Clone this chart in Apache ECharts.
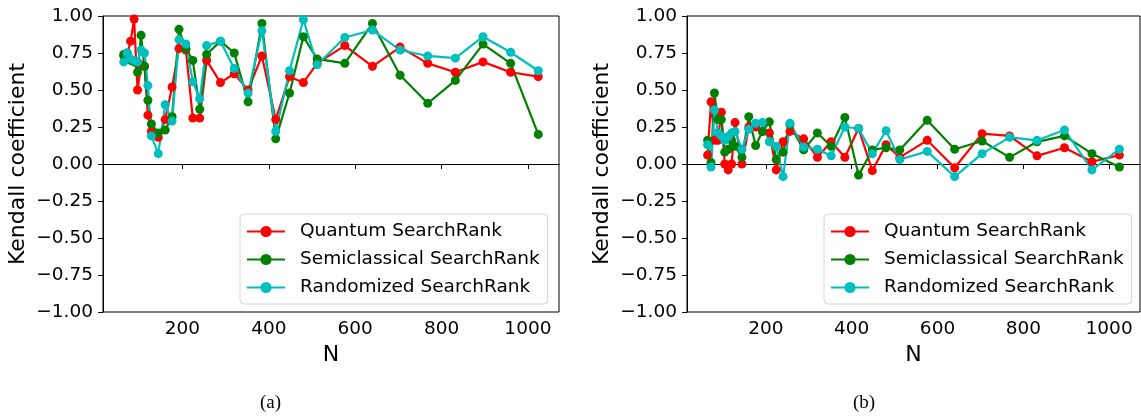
<!DOCTYPE html>
<html>
<head>
<meta charset="utf-8">
<script src="https://cdn.jsdelivr.net/npm/echarts@6/dist/echarts.min.js"></script>
<style>
  html, body { margin: 0; padding: 0; background: #fff; }
  #chart { width: 1141px; height: 416px; }
</style>
</head>
<body>
<div id="chart"></div>
<script>
// graph sizes N (x axis), shared by both panels
const N = [64, 72, 80, 88, 96, 104, 112, 120, 128, 144, 160, 176, 192, 208, 224, 240, 256,
  288, 320, 352, 384, 416, 448, 480, 512, 576, 640, 704, 768, 832, 896, 960, 1024]

const xTicks = [200, 400, 600, 800, 1000]
const names = ['Quantum SearchRank', 'Semiclassical SearchRank', 'Randomized SearchRank']

// panel (a)
const quantumA = [0.73, 0.74, 0.83, 0.98, 0.50, 0.67, 0.66, 0.33, 0.22, 0.18, 0.30, 0.52, 0.78, 0.77, 0.31, 0.31, 0.70,
  0.55, 0.61, 0.50, 0.73, 0.30, 0.59, 0.55, 0.68, 0.80, 0.66, 0.79, 0.68, 0.62, 0.69, 0.62, 0.59]
const semiA = [0.74, 0.75, 0.70, 0.69, 0.62, 0.87, 0.66, 0.43, 0.27, 0.21, 0.23, 0.32, 0.91, 0.78, 0.70, 0.37, 0.74,
  0.83, 0.75, 0.42, 0.95, 0.17, 0.48, 0.86, 0.71, 0.68, 0.95, 0.60, 0.41, 0.565, 0.81, 0.68, 0.20]
const randomA = [0.69, 0.75, 0.71, 0.70, 0.69, 0.77, 0.75, 0.53, 0.19, 0.07, 0.40, 0.29, 0.84, 0.81, 0.555, 0.44, 0.80,
  0.83, 0.645, 0.48, 0.90, 0.22, 0.63, 0.975, 0.67, 0.855, 0.905, 0.77, 0.73, 0.715, 0.86, 0.755, 0.63]

// panel (b)
const quantumB = [0.06, 0.42, 0.16, 0.16, 0.35, 0.00, -0.04, 0.00, 0.28, 0.00, 0.25, 0.25, 0.22, 0.21, -0.04, 0.15, 0.22,
  0.17, 0.045, 0.15, 0.045, 0.24, -0.045, 0.13, 0.045, 0.16, -0.025, 0.205, 0.19, 0.055, 0.11, 0.015, 0.06]
const semiB = [0.16, 0.01, 0.48, 0.30, 0.30, 0.08, 0.10, 0.16, 0.12, 0.045, 0.32, 0.125, 0.22, 0.285, 0.03, 0.08, 0.265,
  0.095, 0.21, 0.12, 0.315, -0.075, 0.095, 0.11, 0.095, 0.295, 0.10, 0.155, 0.045, 0.15, 0.19, 0.07, -0.02]
const randomB = [0.13, -0.02, 0.365, 0.21, 0.19, 0.16, 0.185, 0.21, 0.22, 0.10, 0.235, 0.275, 0.28, 0.15, 0.12, -0.085, 0.275,
  0.115, 0.10, 0.055, 0.25, 0.24, 0.07, 0.225, 0.03, 0.085, -0.085, 0.07, 0.18, 0.16, 0.23, -0.04, 0.10]

const colors = ['#ff0000', '#008000', '#00bfbf']
const font = 'DejaVu Sans'

function pair (vals) {
  return N.map((n, i) => [n, vals[i]])
}

function xAxis (idx) {
  return {
    gridIndex: idx,
    type: 'value',
    min: 16,
    max: 1072,
    name: 'N',
    nameLocation: 'middle',
    nameGap: 29,
    nameTextStyle: { fontSize: 22, fontFamily: font, color: '#000' },
    axisLine: { lineStyle: { color: '#000', width: 1 } },
    axisTick: { length: 5, lineStyle: { color: '#000' }, customValues: xTicks },
    axisLabel: {
      fontSize: 18.5,
      fontFamily: font,
      color: '#000',
      margin: 8,
      customValues: xTicks,
      formatter: v => String(v)
    },
    splitLine: { show: false }
  }
}

function yAxis (idx) {
  return {
    gridIndex: idx,
    type: 'value',
    min: -1,
    max: 1,
    interval: 0.25,
    name: 'Kendall coefficient',
    nameLocation: 'middle',
    nameRotate: 90,
    nameGap: 74,
    nameTextStyle: { fontSize: 22, fontFamily: font, color: '#000' },
    axisLine: { show: true, lineStyle: { color: '#000', width: 1 } },
    axisTick: { show: true, length: 5, lineStyle: { color: '#000' } },
    axisLabel: {
      fontSize: 18.5,
      fontFamily: font,
      color: '#000',
      margin: 10,
      formatter: v => v.toFixed(2).replace('-', '\u2212')
    },
    splitLine: { show: false }
  }
}

function legend (left) {
  return {
    left: left,
    top: 214,
    orient: 'vertical',
    data: names,
    itemWidth: 38,
    itemHeight: 14,
    itemGap: 9,
    padding: [8, 8, 7, 6],
    backgroundColor: '#fff',
    borderColor: '#d5d5d5',
    borderWidth: 1,
    borderRadius: 4,
    textStyle: { fontSize: 18.5, fontFamily: font, color: '#000', padding: [0, 0, 0, 10] }
  }
}

function line (idx, k, vals) {
  return {
    name: names[k],
    type: 'line',
    xAxisIndex: idx,
    yAxisIndex: idx,
    data: pair(vals),
    symbol: 'circle',
    symbolSize: 9,
    color: colors[k],
    lineStyle: { width: 2.2, color: colors[k] },
    itemStyle: { color: colors[k] }
  }
}

const chart = echarts.init(document.getElementById('chart'))
chart.setOption({
  animation: false,
  grid: [
    { left: 103, top: 16, width: 456, height: 296, show: true, borderColor: '#000', borderWidth: 1, backgroundColor: 'transparent' },
    { left: 687, top: 16, width: 453, height: 296, show: true, borderColor: '#000', borderWidth: 1, backgroundColor: 'transparent' }
  ],
  xAxis: [xAxis(0), xAxis(1)],
  yAxis: [yAxis(0), yAxis(1)],
  legend: [legend(240), legend(824)],
  series: [
    line(0, 0, quantumA), line(0, 1, semiA), line(0, 2, randomA),
    line(1, 0, quantumB), line(1, 1, semiB), line(1, 2, randomB)
  ],
  graphic: [
    { type: 'text', left: 260, top: 394, style: { text: '(a)', fontSize: 19, fontFamily: 'Liberation Serif', fill: '#000' } },
    { type: 'text', left: 853, top: 394, style: { text: '(b)', fontSize: 19, fontFamily: 'Liberation Serif', fill: '#000' } }
  ]
})
</script>
</body>
</html>
